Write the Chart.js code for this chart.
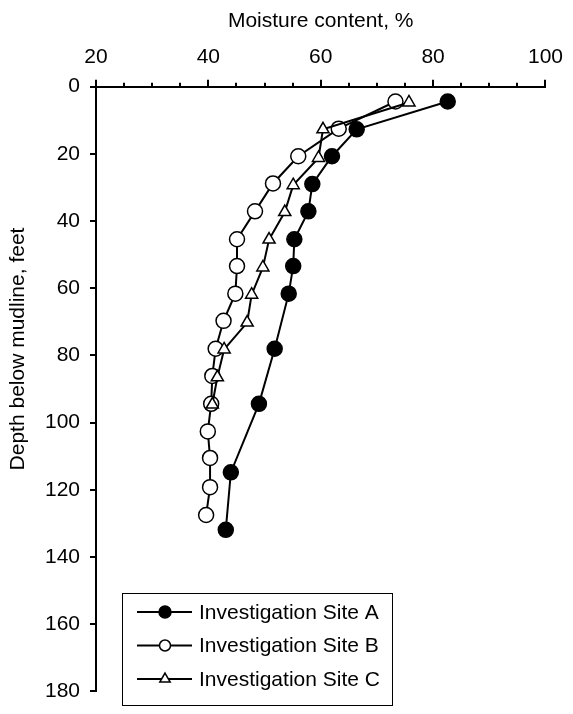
<!DOCTYPE html>
<html>
<head>
<meta charset="utf-8">
<script src="https://cdn.jsdelivr.net/npm/chart.js@4.4.1/dist/chart.umd.min.js"></script>
<style>
html, body { margin: 0; padding: 0; background: #fff; }
#chart-box { width: 573px; height: 714px; }
</style>
</head>
<body>
<div id="chart-box"><canvas id="moistureChart" width="573" height="714"></canvas></div>
<script>
// 深度 (ft) と含水比 (%) - 調査地点ごと
const SITE_A_DEPTH    = [4.4, 12.7, 20.7, 29.0, 37.1, 45.4, 53.4, 61.6, 78.0, 94.4, 114.8, 131.9];
const SITE_A_MOISTURE = [82.6, 66.4, 62.0, 58.5, 57.8, 55.3, 55.1, 54.3, 51.8, 49.0, 44.0, 43.1];

const SITE_B_DEPTH    = [4.4, 12.5, 20.7, 28.8, 37.1, 45.4, 53.4, 61.6, 69.7, 78.0, 86.1, 94.4, 102.6, 110.5, 119.2, 127.5];
const SITE_B_MOISTURE = [73.3, 63.2, 56.0, 51.5, 48.3, 45.1, 45.1, 44.8, 42.7, 41.3, 40.7, 40.5, 39.9, 40.3, 40.3, 39.6];

const SITE_C_DEPTH    = [4.7, 12.7, 21.2, 29.3, 37.3, 45.5, 53.8, 61.9, 70.2, 78.2, 86.5, 94.6];
const SITE_C_MOISTURE = [75.7, 60.4, 59.6, 55.1, 53.6, 50.8, 49.7, 47.7, 46.9, 42.8, 41.6, 40.7];

const SITE_NAMES = ["Investigation Site A", "Investigation Site B", "Investigation Site C"];

// 目盛り
const X_MAJOR_TICKS = [20, 40, 60, 80, 100];
const X_MINOR_TICKS = [25, 30, 35, 45, 50, 55, 65, 70, 75, 85, 90, 95];
const Y_TICKS = [0, 20, 40, 60, 80, 100, 120, 140, 160, 180];

const FONT_FAMILY = "'Liberation Sans', Arial, sans-serif";
const FONT_SIZE = 21;

// 系列ごとのマーカー設定
const SITE_STYLES = [
    { pointStyle: 'circle',   radius: 7.5, fill: '#000', legendRadius: 6 },
    { pointStyle: 'circle',   radius: 7.5, fill: '#fff', legendRadius: 5.5 },
    { pointStyle: 'triangle', radius: 7,   fill: '#fff', legendRadius: 6 }
];

/**
 * 深度配列と含水比配列から {x, y} の点列を作ります。
 */
function toPoints(depths, moistures) {
    return depths.map((d, i) => ({ x: moistures[i], y: d }));
}

/**
 * 縦軸タイトル (回転テキスト) を描くプラグイン。
 */
const depthTitlePlugin = {
    id: 'depthTitle',
    afterDraw(chart) {
        const ctx = chart.ctx;
        ctx.save();
        ctx.translate(18, 349);
        ctx.rotate(-Math.PI / 2);
        ctx.font = FONT_SIZE + "px " + FONT_FAMILY;
        ctx.fillStyle = '#000';
        ctx.textAlign = 'center';
        ctx.textBaseline = 'middle';
        ctx.fillText('Depth below mudline, feet', 0, 0);
        ctx.restore();
    }
};

/**
 * 枠付きの凡例を描くプラグイン。線 + マーカー + ラベル。
 */
const siteLegendPlugin = {
    id: 'siteLegend',
    afterDraw(chart) {
        const ctx = chart.ctx;
        const box = { left: 122, top: 593, right: 392, bottom: 705 };
        const rows = [612, 645.5, 679];

        ctx.save();
        ctx.fillStyle = '#fff';
        ctx.fillRect(box.left, box.top, box.right - box.left, box.bottom - box.top);
        ctx.strokeStyle = '#000';
        ctx.lineWidth = 1;
        ctx.strokeRect(box.left + 0.5, box.top + 0.5, box.right - box.left, box.bottom - box.top);

        SITE_NAMES.forEach((name, i) => {
            const y = rows[i];
            const style = SITE_STYLES[i];
            ctx.strokeStyle = '#000';
            ctx.lineWidth = 2;
            ctx.beginPath();
            ctx.moveTo(137, y);
            ctx.lineTo(192, y);
            ctx.stroke();

            const cx = 165, r = style.legendRadius;
            ctx.lineWidth = 1.5;
            ctx.beginPath();
            if (style.pointStyle === 'triangle') {
                ctx.moveTo(cx, y - r);
                ctx.lineTo(cx + Math.sin(Math.PI * 2 / 3) * r, y + r / 2);
                ctx.lineTo(cx - Math.sin(Math.PI * 2 / 3) * r, y + r / 2);
                ctx.closePath();
            } else {
                ctx.arc(cx, y, r, 0, Math.PI * 2);
            }
            ctx.fillStyle = style.fill;
            ctx.fill();
            ctx.stroke();

            ctx.fillStyle = '#000';
            ctx.font = FONT_SIZE + "px " + FONT_FAMILY;
            ctx.textAlign = 'left';
            ctx.textBaseline = 'middle';
            ctx.fillText(name, 199, y + 1);
        });
        ctx.restore();
    }
};

/**
 * データセット配列を生成します。後の系列ほど上に重なるよう order を逆順にします。
 */
function generateDatasets() {
    const series = [
        toPoints(SITE_A_DEPTH, SITE_A_MOISTURE),
        toPoints(SITE_B_DEPTH, SITE_B_MOISTURE),
        toPoints(SITE_C_DEPTH, SITE_C_MOISTURE)
    ];
    return series.map((data, i) => ({
        label: SITE_NAMES[i],
        data: data,
        showLine: true,
        tension: 0,
        borderColor: '#000',
        borderWidth: 2,
        pointStyle: SITE_STYLES[i].pointStyle,
        pointRadius: SITE_STYLES[i].radius,
        pointBackgroundColor: SITE_STYLES[i].fill,
        pointBorderColor: '#000',
        pointBorderWidth: 1.5,
        order: series.length - i
    }));
}

function buildChart() {
    Chart.defaults.font.family = FONT_FAMILY;
    Chart.defaults.font.size = FONT_SIZE;
    Chart.defaults.color = '#000';

    const ctx = document.getElementById('moistureChart').getContext('2d');
    return new Chart(ctx, {
        type: 'scatter',
        data: { datasets: generateDatasets() },
        options: {
            responsive: false,
            animation: false,
            layout: { padding: { left: 0, top: 0, right: 19, bottom: 12 } },
            plugins: {
                legend: { display: false },
                tooltip: { enabled: false }
            },
            scales: {
                x: {
                    type: 'linear',
                    position: 'top',
                    min: 20,
                    max: 100,
                    weight: 1,
                    afterBuildTicks: s => { s.ticks = X_MAJOR_TICKS.map(v => ({ value: v })); },
                    afterFit: s => { s.height = 86.7; },
                    ticks: { padding: 10, autoSkip: false, maxRotation: 0 },
                    grid: { drawOnChartArea: false, tickLength: 7, color: '#000', lineWidth: 2 },
                    border: { color: '#000', width: 2 },
                    title: {
                        display: true,
                        text: 'Moisture content, %',
                        padding: { top: 9, bottom: 0 }
                    }
                },
                xMinor: {
                    type: 'linear',
                    position: 'top',
                    min: 20,
                    max: 100,
                    weight: 0,
                    afterBuildTicks: s => { s.ticks = X_MINOR_TICKS.map(v => ({ value: v })); },
                    afterFit: s => { s.height = 0; },
                    ticks: { display: false },
                    grid: { drawOnChartArea: false, tickLength: 4, color: '#000', lineWidth: 2 },
                    border: { display: false }
                },
                y: {
                    type: 'linear',
                    position: 'left',
                    reverse: true,
                    min: 0,
                    max: 180,
                    afterBuildTicks: s => { s.ticks = Y_TICKS.map(v => ({ value: v })); },
                    afterFit: s => { s.width = 96; },
                    ticks: { padding: 10, autoSkip: false },
                    grid: { drawOnChartArea: false, tickLength: 6, color: '#000', lineWidth: 2 },
                    border: { color: '#000', width: 2 }
                }
            }
        },
        plugins: [depthTitlePlugin, siteLegendPlugin]
    });
}

buildChart();
</script>
</body>
</html>
